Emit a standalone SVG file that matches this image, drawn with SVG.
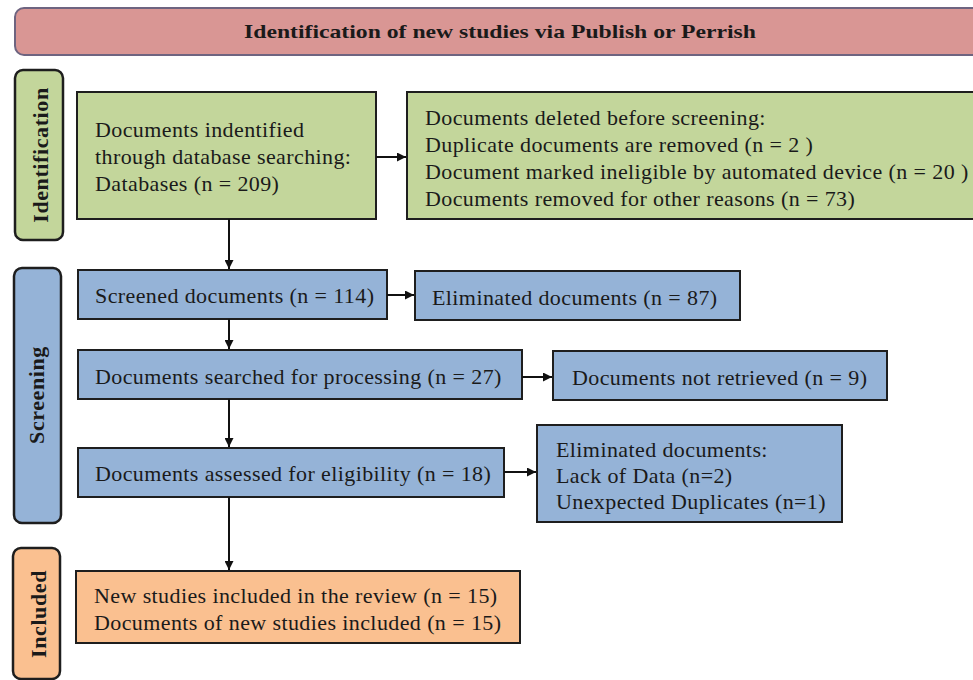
<svg xmlns="http://www.w3.org/2000/svg" width="973" height="680" viewBox="0 0 973 680">
<defs>
<style>
.t{font-family:"Liberation Serif","Times New Roman",serif;font-size:22px;letter-spacing:0.4px;fill:#1a1a1a}
.lbl{font-family:"Liberation Serif","Times New Roman",serif;font-size:19px;font-weight:bold;fill:#1a1a1a}
.sl{font-family:"Liberation Serif","Times New Roman",serif;font-size:22px;font-weight:bold;letter-spacing:0.6px;fill:#1a1a1a}
.box{stroke:#1e1e1e;stroke-width:2}
.side{stroke:#1e1e1e;stroke-width:2.5}
.g{fill:#c3d69b}
.b{fill:#95b3d7}
.o{fill:#fac090}
.c{stroke:#111;stroke-width:2;fill:none;marker-end:url(#ah)}
</style>
<marker id="ah" viewBox="0 0 10 10" refX="10" refY="5" markerWidth="9" markerHeight="9" markerUnits="userSpaceOnUse" orient="auto">
<path d="M0,0 L10,5 L0,10 z" fill="#111"/>
</marker>
</defs>
<rect width="973" height="680" fill="#fff"/>

<g id="title">
<rect x="15" y="8" width="975" height="47" rx="9" fill="#d99694" stroke="#6e6480" stroke-width="2"/>
<text class="lbl" x="500" y="38" text-anchor="middle" textLength="512" lengthAdjust="spacingAndGlyphs">Identification of new studies via Publish or Perrish</text>
</g>

<g id="side-identification">
<rect class="side g" x="15" y="70" width="48" height="170" rx="8"/>
<text class="sl" transform="translate(48,155) rotate(-90)" text-anchor="middle">Identification</text>
</g>
<g id="side-screening">
<rect class="side b" x="14" y="268" width="47" height="255" rx="8"/>
<text class="sl" transform="translate(44,395) rotate(-90)" text-anchor="middle">Screening</text>
</g>
<g id="side-included">
<rect class="side o" x="13" y="548" width="47" height="131" rx="8"/>
<text class="sl" transform="translate(46,614) rotate(-90)" text-anchor="middle">Included</text>
</g>

<g id="identified">
<rect class="box g" x="77" y="92" width="299" height="127"/>
<text class="t" x="95" y="137">Documents indentified</text>
<text class="t" x="95" y="164">through database searching:</text>
<text class="t" x="95" y="191">Databases (n = 209)</text>
</g>

<g id="deleted">
<rect class="box g" x="407" y="92" width="580" height="127"/>
<text class="t" x="425" y="125">Documents deleted before screening:</text>
<text class="t" x="425" y="152">Duplicate documents are removed (n = 2 )</text>
<text class="t" x="425" y="179">Document marked ineligible by automated device (n = 20 )</text>
<text class="t" x="425" y="206">Documents removed for other reasons (n = 73)</text>
</g>

<g id="screened">
<rect class="box b" x="78" y="270" width="309" height="49"/>
<text class="t" x="95" y="303">Screened documents (n = 114)</text>
</g>
<g id="eliminated87">
<rect class="box b" x="415" y="271" width="325" height="49"/>
<text class="t" x="432" y="305">Eliminated documents (n = 87)</text>
</g>
<g id="searched">
<rect class="box b" x="78" y="350" width="444" height="49"/>
<text class="t" x="95" y="384">Documents searched for processing (n = 27)</text>
</g>
<g id="notretrieved">
<rect class="box b" x="553" y="351" width="334" height="49"/>
<text class="t" x="572" y="385">Documents not retrieved (n = 9)</text>
</g>
<g id="assessed">
<rect class="box b" x="78" y="448" width="426" height="49"/>
<text class="t" x="95" y="481">Documents assessed for eligibility (n = 18)</text>
</g>
<g id="eliminated">
<rect class="box b" x="537" y="425" width="305" height="97"/>
<text class="t" x="556" y="457">Eliminated documents:</text>
<text class="t" x="556" y="483">Lack of Data (n=2)</text>
<text class="t" x="556" y="509">Unexpected Duplicates (n=1)</text>
</g>
<g id="included">
<rect class="box o" x="76" y="571" width="444" height="72"/>
<text class="t" x="94" y="603">New studies included in the review (n = 15)</text>
<text class="t" x="94" y="630">Documents of new studies included (n = 15)</text>
</g>

<g id="connectors">
<line class="c" x1="376" y1="157" x2="406" y2="157"/>
<line class="c" x1="229" y1="219" x2="229" y2="269"/>
<line class="c" x1="387" y1="295" x2="414" y2="295"/>
<line class="c" x1="229" y1="319" x2="229" y2="349"/>
<line class="c" x1="522" y1="377" x2="552" y2="377"/>
<line class="c" x1="229" y1="399" x2="229" y2="447"/>
<line class="c" x1="504" y1="472" x2="536" y2="472"/>
<line class="c" x1="229" y1="497" x2="229" y2="570"/>
</g>
</svg>
